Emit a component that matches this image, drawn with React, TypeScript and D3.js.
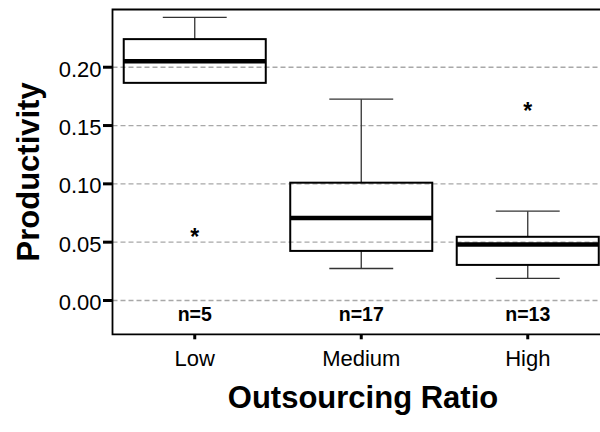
import React from "react";
import * as d3 from "d3";

const categories = ["Low", "Medium", "High"];
const counts = [5, 17, 13];
const whiskerLow = [0.1866, 0.0274, 0.0189];
const q1 = [0.1866, 0.0425, 0.0305];
const median = [0.2052, 0.0708, 0.048];
const q3 = [0.2241, 0.101, 0.0546];
const whiskerHigh = [0.2427, 0.1726, 0.0766];
const outlierCat = ["Low", "High"];
const outlierVal = [0.0588, 0.1666];
const yTicks = [0.0, 0.05, 0.1, 0.15, 0.2];

const W = 600;
const H = 432;
const left = 112.5;
const right = 611;
const top = 9.5;
const bottom = 334.3;

export default function App() {
  const x = d3.scalePoint<string>().domain(categories).range([111.5, 611]).padding(0.5);
  const step = x.step();
  const boxW = step * 0.853;
  const capW = boxW * 0.45;
  const y = d3.scaleLinear().domain([-0.029, 0.2495]).range([bottom, top]);
  const font = "'Liberation Sans', Arial, Helvetica, sans-serif";

  return (
    <svg
      width={W}
      height={H}
      style={{ position: "absolute", left: 0, top: 0, background: "#fff" }}
      fontFamily={font}
    >
      <rect x={0} y={0} width={W} height={H} fill="#fff" />
      {/* gridlines */}
      {yTicks.map((t) => (
        <line
          key={"g" + t}
          x1={left}
          x2={right}
          y1={y(t)}
          y2={y(t)}
          stroke="#a8a8a8"
          strokeWidth={1.3}
          strokeDasharray="5,3"
        />
      ))}
      {/* frame */}
      <path
        d={`M${right},${top}H${left}V${bottom}H${right}`}
        fill="none"
        stroke="#000"
        strokeWidth={1.8}
      />
      {/* y ticks */}
      {yTicks.map((t) => (
        <g key={"t" + t}>
          <line x1={103} x2={left} y1={y(t)} y2={y(t)} stroke="#000" strokeWidth={3} />
          <text x={101.5} y={y(t) + 9.5} textAnchor="end" fontSize={22} fill="#000">
            {d3.format(".2f")(t)}
          </text>
        </g>
      ))}
      {/* x ticks */}
      {categories.map((c) => (
        <g key={"x" + c}>
          <line x1={x(c)} x2={x(c)} y1={bottom} y2={bottom + 5} stroke="#000" strokeWidth={3} />
          <text x={x(c)} y={366} textAnchor="middle" fontSize={22} fill="#000">
            {c}
          </text>
        </g>
      ))}
      {/* boxes */}
      {categories.map((c, i) => {
        const cx = x(c) as number;
        return (
          <g key={"b" + c}>
            <line x1={cx} x2={cx} y1={y(q3[i])} y2={y(whiskerHigh[i])} stroke="#333" strokeWidth={1.3} />
            <line x1={cx - capW / 2} x2={cx + capW / 2} y1={y(whiskerHigh[i])} y2={y(whiskerHigh[i])} stroke="#333" strokeWidth={1.3} />
            {whiskerLow[i] < q1[i] && (
              <>
                <line x1={cx} x2={cx} y1={y(q1[i])} y2={y(whiskerLow[i])} stroke="#333" strokeWidth={1.3} />
                <line x1={cx - capW / 2} x2={cx + capW / 2} y1={y(whiskerLow[i])} y2={y(whiskerLow[i])} stroke="#333" strokeWidth={1.3} />
              </>
            )}
            <rect
              x={cx - boxW / 2}
              y={y(q3[i])}
              width={boxW}
              height={y(q1[i]) - y(q3[i])}
              fill="none"
              stroke="#000"
              strokeWidth={2}
            />
            <line x1={cx - boxW / 2} x2={cx + boxW / 2} y1={y(median[i])} y2={y(median[i])} stroke="#000" strokeWidth={4.5} />
            <text x={cx} y={y(0) + 21} textAnchor="middle" fontSize={19.5} fontWeight="bold" fill="#000">
              {"n=" + counts[i]}
            </text>
          </g>
        );
      })}
      {/* outliers */}
      {outlierCat.map((c, i) => (
        <text
          key={"o" + i}
          x={x(c)}
          y={y(outlierVal[i]) + 13}
          textAnchor="middle"
          fontSize={23}
          fontWeight="bold"
          fill="#000"
        >
          *
        </text>
      ))}
      {/* axis titles */}
      <text x={363} y={408} textAnchor="middle" fontSize={31} fontWeight="bold" fill="#000">
        Outsourcing Ratio
      </text>
      <text
        transform={`translate(38.5,${(top + bottom) / 2}) rotate(-90)`}
        textAnchor="middle"
        fontSize={31}
        fontWeight="bold"
        fill="#000"
      >
        Productivity
      </text>
    </svg>
  );
}
